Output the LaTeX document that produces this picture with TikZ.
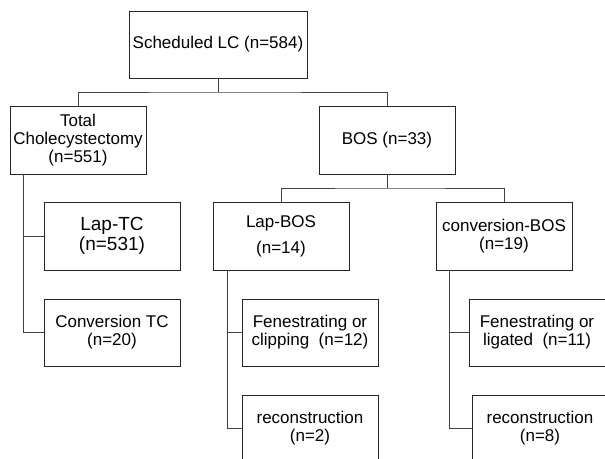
\documentclass[tikz,border=0pt]{standalone}
\usepackage{fontspec}
\setmainfont{Liberation Sans}
\usetikzlibrary{positioning}

\begin{document}
\begin{tikzpicture}[
    x=1pt, y=-1pt,
    font=\fontsize{17}{18}\selectfont,
    box/.style={rectangle,draw=black!85,line width=0.8pt,inner sep=0pt,minimum width=136pt,minimum height=67pt,align=center},
    line/.style={draw=black!75,line width=0.8pt}
]
\useasboundingbox (0,0) rectangle (605,458);

\node[box,minimum width=178pt] (lc) at (218,44.5) {Scheduled LC (n=584)};
\node[box,minimum height=68pt] (tc) at (78,140) {Total\\Cholecystectomy\\(n=551)};
\node[box,minimum height=68pt] (bos) at (387,140) {BOS (n=33)};
\node[box,minimum height=68pt,font=\fontsize{19}{20}\selectfont] (laptc) at (112,236) {Lap-TC\\(n=531)};
\node[box] (convtc) at (112,332.5) {Conversion TC\\(n=20)};
\node[box,minimum height=68pt] (lapbos) at (281,236) {Lap-BOS\\[8pt](n=14)};
\node[box,minimum height=68pt] (convbos) at (504,236) {conversion-BOS\\(n=19)};
\node[box] (fclip) at (310,332.5) {Fenestrating or\\clipping~~(n=12)};
\node[box] (recA) at (310,428.5) {reconstruction\\(n=2)};
\node[box] (flig) at (537,332.5) {Fenestrating or\\ligated~~(n=11)};
\node[box] (recB) at (540,428.5) {reconstruction\\(n=8)};

\coordinate (bus1) at (218,92);
\coordinate (bus2) at (387,188);
\coordinate (tcspine) at (23,174);
\coordinate (lapspine) at (227,270);
\coordinate (convspine) at (449,270);

\draw[line] (lc) -- (bus1);
\draw[line] (tc.north) |- (bus1) -| (bos.north);
\draw[line] (bos) -- (bus2);
\draw[line] (lapbos.north) |- (bus2) -| (convbos.north);
\draw[line] (tcspine) |- (laptc.west);
\draw[line] (tcspine) |- (convtc.west);
\draw[line] (lapspine) |- (fclip.west);
\draw[line] (lapspine) |- (recA.west);
\draw[line] (convspine) |- (flig.west);
\draw[line] (convspine) |- (recB.west);
\end{tikzpicture}
\end{document}
